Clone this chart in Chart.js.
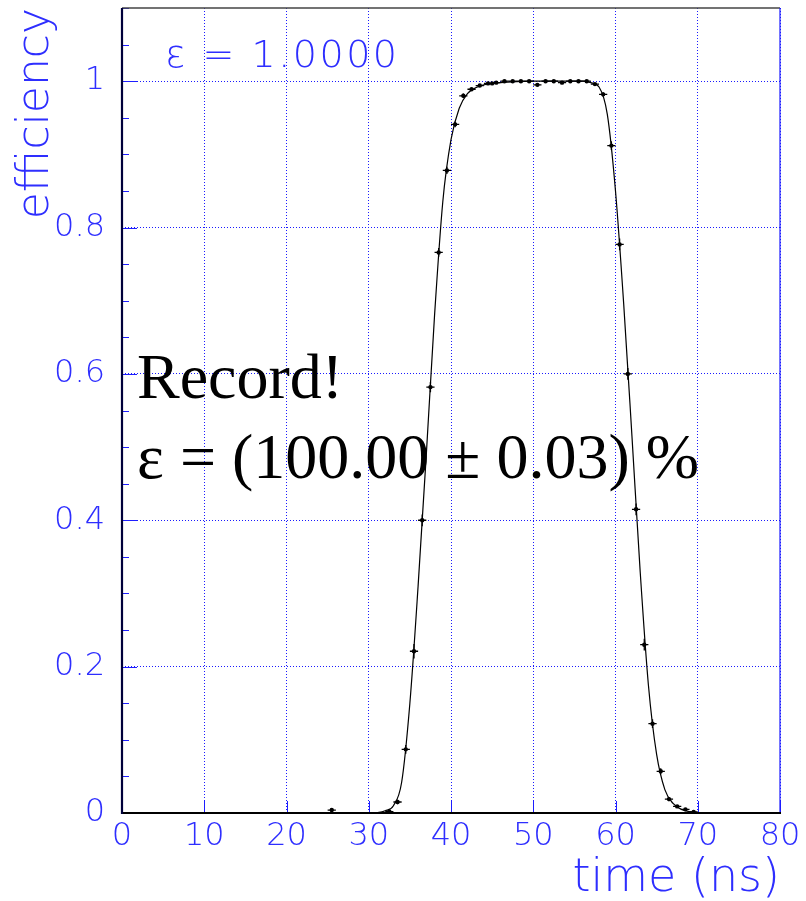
<!DOCTYPE html>
<html>
<head>
<meta charset="utf-8">
<script src="https://cdn.jsdelivr.net/npm/chart.js@4/dist/chart.umd.min.js"></script>
<style>
  html, body { margin: 0; padding: 0; background: #ffffff; }
  #wrap { width: 806px; height: 901px; }
</style>
</head>
<body>
<div id="wrap"><canvas id="c" width="806" height="901"></canvas></div>
<script>
// ---------------- data ----------------
const timeNs = [25.5, 32.5, 33.5, 34.5, 35.5, 36.5, 37.5, 38.5, 39.5, 40.5, 41.5, 42.5, 43.5, 44.5, 45.0, 45.5,
  46.5, 47.5, 48.5, 49.5, 50.5, 51.5, 52.5, 53.5, 54.5, 55.5, 56.5, 57.5, 58.5, 59.5, 60.5, 61.5, 62.5, 63.5,
  64.5, 65.5, 66.5, 67.5, 68.5, 69.5];
const efficiency = [0.004, 0.002, 0.015, 0.087, 0.221, 0.400, 0.582, 0.766, 0.878, 0.941, 0.980, 0.989, 0.994, 0.997, 0.997, 0.998,
  1.000, 1.000, 1.000, 1.000, 0.995, 1.000, 1.000, 0.998, 1.000, 1.000, 1.000, 0.996, 0.982, 0.912, 0.777, 0.600, 0.415, 0.230,
  0.122, 0.057, 0.019, 0.009, 0.005, 0.0015];
const efficiencyError = [0.001, 0.001, 0.003, 0.006, 0.010, 0.008, 0.007, 0.006, 0.005, 0.004, 0.003, 0.002, 0.002, 0.001, 0.001, 0.001,
  0.001, 0.001, 0.001, 0.001, 0.001, 0.001, 0.001, 0.001, 0.001, 0.001, 0.001, 0.001, 0.003, 0.006, 0.008, 0.008, 0.008, 0.008,
  0.006, 0.004, 0.003, 0.002, 0.001, 0.001];
const timeHalfWidth = 0.5;

// fitted curve
const fitTime = [0, 30, 31, 32, 33, 34, 35, 36, 37, 38, 39, 40, 41, 42, 43, 44, 46, 48, 50, 56, 57, 58, 59, 60, 61, 62, 63, 64, 65, 66, 67, 68, 69, 70, 72, 80];
const fitEff  = [0, 0, 0.0005, 0.003, 0.01, 0.042, 0.15, 0.31, 0.49, 0.68, 0.835, 0.92, 0.963, 0.983, 0.991, 0.995, 0.998, 0.9995, 1.0, 1.0, 0.998, 0.992, 0.955, 0.85, 0.695, 0.515, 0.33, 0.175, 0.08, 0.032, 0.013, 0.005, 0.002, 0.0007, 0.0002, 0];

const xTickLabels = ['0', '10', '20', '30', '40', '50', '60', '70', '80'];
const yTickLabels = ['0', '0.2', '0.4', '0.6', '0.8', '1'];
const xTitle = 'time (ns)';
const yTitle = 'efficiency';
const topLabel = 'ε = 1.0000';
const recordLines = ['Record!', 'ε = (100.00 ± 0.03) %'];

// ---------------- styles ----------------
const BLUE = '#2e2eff';
const GRID = '#1a1aff';
const LIGHT_FONT = '"DejaVu Sans", sans-serif';

function isMajorY(v) { return Math.abs(v * 5 - Math.round(v * 5)) < 1e-6; }

const errorBarPlugin = {
  id: 'errorBars',
  afterDatasetsDraw(chart) {
    const ctx = chart.ctx, xs = chart.scales.x, ys = chart.scales.y;
    ctx.save();
    ctx.strokeStyle = '#000';
    ctx.lineWidth = 1.3;
    ctx.beginPath();
    for (let i = 0; i < timeNs.length; i++) {
      const px = xs.getPixelForValue(timeNs[i]);
      const py = ys.getPixelForValue(efficiency[i]);
      const xl = xs.getPixelForValue(timeNs[i] - timeHalfWidth);
      const xr = xs.getPixelForValue(timeNs[i] + timeHalfWidth);
      const yt = ys.getPixelForValue(efficiency[i] + efficiencyError[i]);
      const yb = ys.getPixelForValue(efficiency[i] - efficiencyError[i]);
      ctx.moveTo(xl, py); ctx.lineTo(xr, py);
      ctx.moveTo(px, yt); ctx.lineTo(px, yb);
    }
    ctx.stroke();
    ctx.restore();
  }
};

const framePlugin = {
  id: 'frame',
  afterDraw(chart) {
    const ctx = chart.ctx, a = chart.chartArea, xs = chart.scales.x, ys = chart.scales.y;
    ctx.save();
    // inward tick marks
    ctx.strokeStyle = '#1e1eff';
    ctx.lineWidth = 1;
    ctx.beginPath();
    ys.ticks.forEach(t => {
      const y = Math.round(ys.getPixelForValue(t.value)) + 0.5;
      const len = isMajorY(t.value) ? 15 : 7;
      ctx.moveTo(a.left, y); ctx.lineTo(a.left + len, y);
    });
    xs.ticks.forEach(t => {
      const x = Math.round(xs.getPixelForValue(t.value)) + 0.5;
      ctx.moveTo(x, a.bottom); ctx.lineTo(x, a.bottom - 12);
    });
    ctx.stroke();
    // frame
    ctx.lineWidth = 1.5;
    ctx.strokeStyle = '#444';
    ctx.beginPath(); ctx.moveTo(a.left, a.top); ctx.lineTo(a.right, a.top); ctx.stroke();
    ctx.strokeStyle = '#1a1aff';
    ctx.lineWidth = 1.2;
    ctx.beginPath(); ctx.moveTo(a.right, a.top); ctx.lineTo(a.right, a.bottom); ctx.stroke();
    ctx.lineWidth = 2.2;
    ctx.strokeStyle = '#000';
    ctx.beginPath(); ctx.moveTo(a.left - 1, a.bottom); ctx.lineTo(a.right + 1, a.bottom); ctx.stroke();
    ctx.strokeStyle = '#00003a';
    ctx.beginPath(); ctx.moveTo(a.left, a.top); ctx.lineTo(a.left, a.bottom + 1); ctx.stroke();

    // annotation texts
    ctx.textAlign = 'left';
    ctx.textBaseline = 'alphabetic';
    ctx.fillStyle = BLUE;
    ctx.font = '200 38px ' + LIGHT_FONT;
    try { ctx.letterSpacing = '2.5px'; } catch (e) {}
    ctx.fillText(topLabel, a.left + 43, a.top + 59);
    try { ctx.letterSpacing = '0px'; } catch (e) {}
    ctx.fillStyle = '#000';
    ctx.font = '64px "Liberation Serif", "Times New Roman", serif';
    ctx.fillText(recordLines[0], a.left + 15, a.top + 390);
    ctx.fillText(recordLines[1], a.left + 15, a.top + 470);
    ctx.restore();
  }
};

const ctx = document.getElementById('c').getContext('2d');
new Chart(ctx, {
  type: 'scatter',
  data: {
    datasets: [
      {
        label: 'fit',
        data: fitTime.map((t, i) => ({ x: t, y: fitEff[i] })),
        showLine: true,
        borderColor: '#000',
        borderWidth: 1.2,
        pointRadius: 0,
        cubicInterpolationMode: 'monotone',
        order: 2
      },
      {
        label: 'efficiency',
        data: timeNs.map((t, i) => ({ x: t, y: efficiency[i] })),
        showLine: false,
        pointRadius: 2.2,
        pointBackgroundColor: '#000',
        pointBorderColor: '#000',
        pointBorderWidth: 0,
        order: 1
      }
    ]
  },
  options: {
    responsive: false,
    animation: false,
    devicePixelRatio: 1,
    layout: { padding: { left: 0, right: 26, top: 8, bottom: 0 } },
    plugins: { legend: { display: false }, tooltip: { enabled: false } },
    scales: {
      x: {
        type: 'linear',
        min: 0, max: 80,
        ticks: {
          stepSize: 10,
          autoSkip: false,
          maxRotation: 0,
          padding: 4,
          color: BLUE,
          font: { family: LIGHT_FONT, size: 32, weight: '200' },
          callback: (v) => xTickLabels[Math.round(v / 10)]
        },
        grid: { color: GRID, lineWidth: 1, drawTicks: false },
        border: { display: false, dash: [1, 2] },
        title: {
          display: true, text: xTitle, align: 'end', color: BLUE,
          font: { family: LIGHT_FONT, size: 46, weight: '200' },
          padding: { top: 0, bottom: -6 }
        },
        afterFit(s) { s.height = 88; s.paddingLeft = 0; s.paddingRight = 0; }
      },
      y: {
        type: 'linear',
        min: 0, max: 1.1,
        ticks: {
          stepSize: 0.05,
          includeBounds: false,
          autoSkip: false,
          padding: 17,
          color: BLUE,
          font: { family: LIGHT_FONT, size: 32, weight: '200' },
          callback: (v) => isMajorY(v) && v <= 1.0001 ? yTickLabels[Math.round(v * 5)] : ''
        },
        grid: {
          color: (c) => (c.tick && isMajorY(c.tick.value) && c.tick.value > 0.001 && c.tick.value < 1.05) ? GRID : 'rgba(0,0,0,0)',
          lineWidth: 1,
          drawTicks: false
        },
        border: { display: false, dash: [1, 2] },
        title: {
          display: true, text: yTitle, align: 'end', color: BLUE,
          font: { family: LIGHT_FONT, size: 44, weight: '200' },
          padding: { top: 10, bottom: 0 }
        },
        afterFit(s) { s.width = 122; s.paddingTop = 0; s.paddingBottom = 0; }
      }
    }
  },
  plugins: [errorBarPlugin, framePlugin]
});
</script>
</body>
</html>
